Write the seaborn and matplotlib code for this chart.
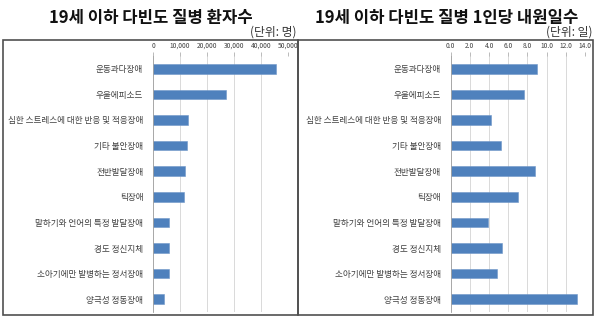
import numpy as np
import pandas as pd
import matplotlib
matplotlib.use("Agg")
import matplotlib.pyplot as plt
from matplotlib.patches import Rectangle
from matplotlib.ticker import FuncFormatter
import seaborn as sns

sns.set_theme(style="white")
plt.rcParams['font.family'] = ['Noto Sans CJK KR', 'DejaVu Sans']

categories = [
    "운동과다장애",
    "우울에피소드",
    "심한 스트레스에 대한 반응 및 적응장애",
    "기타 불안장애",
    "전반발달장애",
    "틱장애",
    "말하기와 언어의 특정 발달장애",
    "경도 정신지체",
    "소아기에만 발병하는 정서장애",
    "양극성 정동장애",
]
patients = [45500, 27000, 13100, 12700, 12000, 11500, 6000, 6000, 6000, 4000]
visit_days = [9.0, 7.6, 4.2, 5.2, 8.8, 7.0, 3.85, 5.35, 4.85, 13.2]

titles = ["19세 이하 다빈도 질병 환자수", "19세 이하 다빈도 질병 1인당 내원일수"]
units = ["(단위: 명)", "(단위: 일)"]
x_ticks = [np.arange(0, 50001, 10000), np.arange(0, 14.01, 2.0)]
x_fmts = [lambda v, p: f"{v:,.0f}", lambda v, p: f"{v:.1f}"]

BAR = "#4F81BD"
GRID = "#D9D9D9"
TEXT = "#404040"

fig = plt.figure(figsize=(6.0, 3.23), dpi=100)
W, H = 600, 323

def fx(px):
    return px / W

def fy(py):
    return 1 - py / H

# outer frames of the two panels
for x0, x1 in [(3, 298), (298, 593)]:
    fig.patches.append(Rectangle((fx(x0), fy(315)), fx(x1 - x0), (315 - 40) / H,
                                 transform=fig.transFigure, fill=False,
                                 edgecolor="#505050", linewidth=1.2, zorder=0))

panels = [
    (patients, 153, 288, 50000, 151, 296),
    (visit_days, 450.7, 585, 14.0, 447, 592),
]

for i, (vals, left, right, xmax, tcx, ux) in enumerate(panels):
    ax = fig.add_axes([fx(left), fy(312), fx(right - left), (312 - 56) / H])
    df = pd.DataFrame({"cat": categories, "val": vals})
    sns.barplot(data=df, y="cat", x="val", orient="h", color=BAR,
                saturation=1, width=0.37, ax=ax, edgecolor="#6F97C9", linewidth=0.4)
    ax.set_xlim(0, xmax)
    ax.set_ylim(9.5, -0.5)
    ax.set_xlabel("")
    ax.set_ylabel("")
    ax.xaxis.tick_top()
    ax.set_xticks(x_ticks[i])
    ax.xaxis.set_major_formatter(FuncFormatter(x_fmts[i]))
    ax.tick_params(axis="x", which="major", length=3, width=0.5, color="#A0A0A0",
                   labelsize=4.8, labelcolor=TEXT, pad=1.5, top=True, bottom=False)
    ax.set_yticks(range(len(categories)))
    ax.set_yticklabels(categories)
    ax.tick_params(axis="y", which="major", length=0, labelsize=6.2,
                   labelcolor=TEXT, pad=7)
    ax.set_yticks(np.arange(-0.5, len(categories), 1.0), minor=True)
    ax.tick_params(axis="y", which="minor", length=3, width=0.5, color="#A0A0A0")
    ax.grid(axis="x", color=GRID, linewidth=0.7)
    ax.set_axisbelow(True)
    for s in ["top", "right", "bottom"]:
        ax.spines[s].set_visible(False)
    ax.spines["left"].set_color("#A0A0A0")
    ax.spines["left"].set_linewidth(0.6)

    fig.text(fx(tcx), fy(18), titles[i], ha="center", va="center",
             fontsize=12, fontweight="bold", color="#111111")
    fig.text(fx(ux), fy(32), units[i], ha="right", va="center",
             fontsize=8.5, color="#333333")

fig.savefig("out.png", dpi=100)
